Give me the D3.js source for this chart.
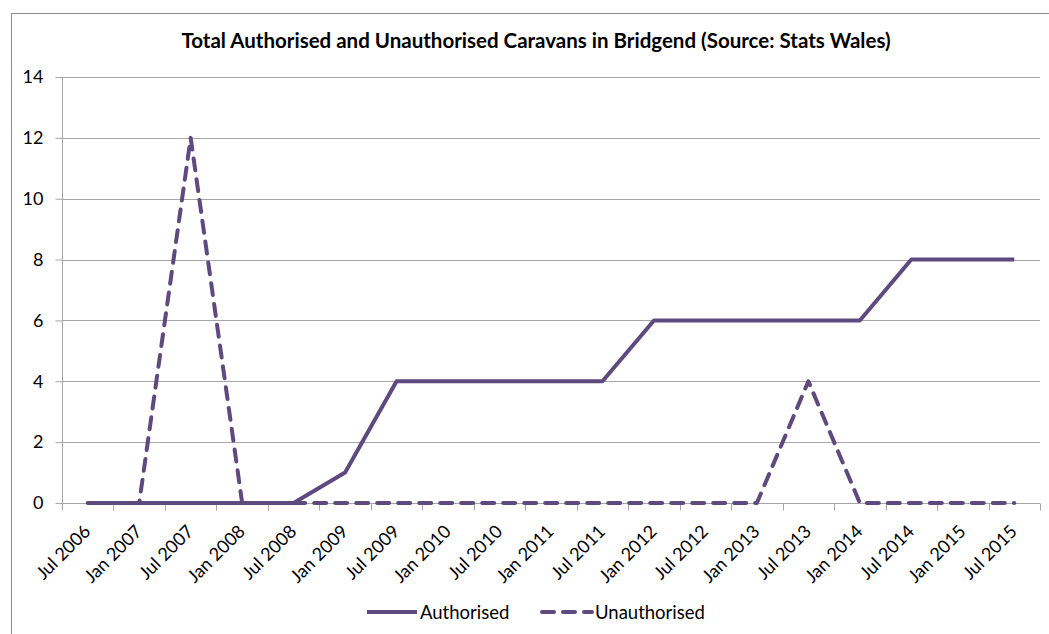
<!DOCTYPE html>
<html>
<head>
<meta charset="utf-8">
<script src="https://cdn.jsdelivr.net/npm/d3@7"></script>
<style>
  html, body { margin: 0; padding: 0; background: #fff; }
  svg { display: block; font-family: Lato, "Open Sans", sans-serif; }
</style>
</head>
<body>
<svg id="chart" width="1049" height="634"></svg>
<script>
// Half-yearly counts of caravans in Bridgend
const categories = ["Jul 2006", "Jan 2007", "Jul 2007", "Jan 2008", "Jul 2008", "Jan 2009",
  "Jul 2009", "Jan 2010", "Jul 2010", "Jan 2011", "Jul 2011", "Jan 2012", "Jul 2012",
  "Jan 2013", "Jul 2013", "Jan 2014", "Jul 2014", "Jan 2015", "Jul 2015"];
const authorised   = [0, 0, 0, 0, 0, 1, 4, 4, 4, 4, 4, 6, 6, 6, 6, 6, 8, 8, 8];
const unauthorised = [0, 0, 12, 0, 0, 0, 0, 0, 0, 0, 0, 0, 0, 0, 4, 0, 0, 0, 0];
const yTicks = [0, 2, 4, 6, 8, 10, 12, 14];
const seriesNames = ["Authorised", "Unauthorised"];

const lineColor = "#5f4a80";
const svg = d3.select("#chart");

// outer chart frame
svg.append("rect")
  .attr("x", 11.5).attr("y", 13.5)
  .attr("width", 1100).attr("height", 700)
  .attr("fill", "none").attr("stroke", "#8c8c8c").attr("stroke-width", 1);

const plot = { left: 62, right: 1040, top: 77, bottom: 503 };

const x = d3.scaleBand().domain(categories).range([plot.left, plot.right]);
const y = d3.scaleLinear().domain([0, 14]).range([plot.bottom, plot.top]);
const cx = d => x(d) + x.bandwidth() / 2;

// title
svg.append("text")
  .attr("x", 536).attr("y", 48)
  .attr("text-anchor", "middle")
  .attr("font-weight", "bold")
  .attr("font-size", 20.5)
  .attr("fill", "#000")
  .text("Total Authorised and Unauthorised Caravans in Bridgend (Source: Stats Wales)");

// horizontal gridlines
svg.append("g")
  .selectAll("line")
  .data(yTicks.filter(t => t > 0))
  .join("line")
  .attr("x1", plot.left).attr("x2", plot.right)
  .attr("y1", d => Math.round(y(d)) + 0.5).attr("y2", d => Math.round(y(d)) + 0.5)
  .attr("stroke", "#a6a6a6").attr("stroke-width", 1);

// y axis
const yAxis = svg.append("g")
  .attr("transform", `translate(${plot.left + 0.5},0)`)
  .call(d3.axisLeft(y).tickValues(yTicks).tickSize(7).tickPadding(12));
yAxis.selectAll("path, line").attr("stroke", "#a6a6a6");
yAxis.selectAll("text").attr("font-size", 18).attr("fill", "#000")
  .attr("font-family", "Lato, 'Open Sans', sans-serif");
yAxis.select(".domain").attr("d", `M0,${plot.top}V${plot.bottom}`);

// x axis with ticks on category boundaries
const xg = svg.append("g").attr("transform", `translate(0,${plot.bottom + 0.5})`);
xg.append("line")
  .attr("x1", plot.left).attr("x2", plot.right)
  .attr("stroke", "#a6a6a6");
const boundaries = categories.map(c => x(c)).concat([plot.right]);
xg.selectAll("line.tick")
  .data(boundaries)
  .join("line")
  .attr("class", "tick")
  .attr("x1", d => Math.round(d) + 0.5).attr("x2", d => Math.round(d) + 0.5)
  .attr("y1", 0).attr("y2", 7)
  .attr("stroke", "#a6a6a6");
xg.selectAll("text")
  .data(categories)
  .join("text")
  .attr("text-anchor", "end")
  .attr("font-size", 18)
  .attr("fill", "#000")
  .attr("transform", d => `translate(${cx(d) + 4},${29}) rotate(-45)`)
  .text(d => d);

// series lines
const line = d3.line()
  .x((d, i) => cx(categories[i]))
  .y(d => y(d));

svg.append("path")
  .datum(unauthorised)
  .attr("d", line)
  .attr("fill", "none")
  .attr("stroke", lineColor)
  .attr("stroke-width", 4)
  .attr("stroke-linecap", "round")
  .attr("stroke-linejoin", "round")
  .attr("stroke-dasharray", "12,9");

svg.append("path")
  .datum(authorised)
  .attr("d", line)
  .attr("fill", "none")
  .attr("stroke", lineColor)
  .attr("stroke-width", 4)
  .attr("stroke-linejoin", "round");

// legend
const legend = svg.append("g").attr("transform", "translate(0,612)");
const items = [
  { name: seriesNames[0], x0: 367, dash: null },
  { name: seriesNames[1], x0: 542, dash: "12,9" }
];
items.forEach(it => {
  legend.append("line")
    .attr("x1", it.x0).attr("x2", it.x0 + 50)
    .attr("y1", 0).attr("y2", 0)
    .attr("stroke", lineColor).attr("stroke-width", 4)
    .attr("stroke-linecap", it.dash ? "round" : "butt")
    .attr("stroke-dasharray", it.dash);
  legend.append("text")
    .attr("x", it.x0 + 53).attr("y", 6.5)
    .attr("font-size", 18.5).attr("fill", "#000")
    .text(it.name);
});
</script>
</body>
</html>
